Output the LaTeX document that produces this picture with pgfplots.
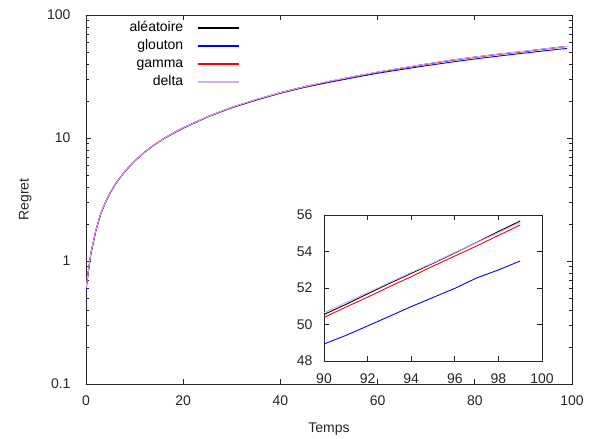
\documentclass[border=0pt]{standalone}
\usepackage{pgfplots}
\pgfplotsset{compat=1.18}
\usepackage{pgfplotstable}
\usepackage{fontspec}
\setmainfont{Liberation Sans}
\definecolor{deltac}{rgb}{0.80,0.68,1.0}
\definecolor{axisgray}{rgb}{0.15,0.15,0.15}

\pgfplotstableread{
t v
0 0.60
1 1.15
2 1.75
3 2.40
4 3.00
5 3.60
6 4.20
7 4.75
8 5.35
10 6.50
12 7.65
14 8.80
16 9.90
18 11.0
20 12.1
25 14.9
30 17.8
35 20.5
40 23.4
45 26.2
50 28.8
55 31.5
60 34.3
65 37.0
70 39.9
75 42.8
80 45.5
85 48.1
90 50.55
91 51.10
92 51.68
93 52.25
94 52.80
95 53.35
96 53.92
97 54.50
98 55.10
99 55.67
}\alea

\pgfplotstableread{
t v
0 0.58
1 1.13
2 1.74
3 2.38
4 2.98
5 3.58
6 4.18
7 4.73
8 5.33
10 6.48
12 7.62
14 8.75
16 9.85
18 10.9
20 12.0
25 14.8
30 17.6
35 20.3
40 23.1
45 25.8
50 28.3
55 30.9
60 33.6
65 36.1
70 38.7
75 41.3
80 43.9
85 46.4
90 48.93
91 49.40
92 49.92
93 50.45
94 50.98
95 51.48
96 51.98
97 52.55
98 52.99
99 53.48
}\glouton

\pgfplotstableread{
t v
0 0.62
1 1.17
2 1.77
3 2.42
4 3.02
5 3.62
6 4.22
7 4.77
8 5.37
10 6.52
12 7.66
14 8.80
16 9.90
18 11.0
20 12.1
25 14.9
30 17.7
35 20.5
40 23.3
45 26.1
50 28.7
55 31.4
60 34.2
65 36.9
70 39.8
75 42.6
80 45.3
85 47.9
90 50.39
91 50.95
92 51.50
93 52.07
94 52.62
95 53.20
96 53.75
97 54.30
98 54.88
99 55.45
}\gammat

\pgfplotstableread{
t v
0 0.60
1 1.16
2 1.76
3 2.41
4 3.01
5 3.61
6 4.21
7 4.76
8 5.36
10 6.51
12 7.66
14 8.81
16 9.91
18 11.0
20 12.1
25 14.9
30 17.8
35 20.6
40 23.4
45 26.2
50 28.9
55 31.6
60 34.4
65 37.1
70 40.0
75 42.9
80 45.6
85 48.2
90 50.65
91 51.20
92 51.75
93 52.30
94 52.85
95 53.38
96 53.95
97 54.48
98 55.03
99 55.58
}\deltat

\newcommand{\lblfont}{\fontsize{14}{16}\selectfont}

\begin{document}
\begin{tikzpicture}
\path[use as bounding box] (0pt,0pt) rectangle (592pt,439pt);
\pgfplotsset{
  every axis/.append style={
    scale only axis,
    axis line style={line width=0.9pt, draw=axisgray},
    tick style={line width=0.8pt, draw=axisgray},
    tick align=inside,
    tick pos=both,
    major tick length=5pt,
    minor tick length=3pt,
    /pgf/number format/assume math mode=true,
    tick label style={font=\lblfont, text=axisgray},
  },
}
\begin{axis}[
  at={(86pt,55pt)}, anchor=south west,
  width=486pt, height=369pt,
  xmin=0, xmax=100,
  ymode=log, ymin=0.1, ymax=100,
  xtick={0,20,...,100},
  ytick={0.1,1,10,100},
  yticklabels={0.1,1,10,100},
  xticklabel style={yshift=-8pt},
  yticklabel style={xshift=-12pt},
  xlabel={Temps},
  ylabel={Regret},
  every axis y label/.style={at={(axis description cs:-0.125,0.5)}, rotate=90, anchor=center, font=\lblfont, text=axisgray},
  every axis x label/.style={at={(axis description cs:0.5,-0.122)}, anchor=center, font=\lblfont, text=axisgray},
  legend plot pos=right,
  legend cell align=right,
  legend style={at={(axis description cs:0.08,0.994)}, anchor=north west, draw=none, fill=none,
    font=\lblfont, row sep=1pt, column sep=12pt,
    nodes={inner sep=1.5pt, text height=11pt, text depth=3pt}},
  legend image code/.code={\draw[#1, line width=1.6pt] (0pt,0pt) -- (41pt,0pt);},
]
\addplot[color=black, line width=0.9pt] table[x=t,y=v] {\alea};
\addlegendentry{aléatoire}
\addplot[color=blue, line width=0.9pt] table[x=t,y=v] {\glouton};
\addlegendentry{glouton}
\addplot[color=red, line width=0.9pt] table[x=t,y=v] {\gammat};
\addlegendentry{gamma}
\addplot[color=deltac, line width=0.9pt] table[x=t,y=v] {\deltat};
\addlegendentry{delta}
\end{axis}

\begin{axis}[
  at={(324pt,78pt)}, anchor=south west,
  width=218pt, height=146pt,
  axis background/.style={fill=white},
  xmin=90, xmax=100, ymin=48, ymax=56,
  xtick={90,92,...,100},
  ytick={48,50,...,56},
  xticklabel style={yshift=-9pt},
  yticklabel style={xshift=-8pt},
]
\addplot[color=black, line width=0.9pt] table[x=t,y=v, restrict x to domain=90:100] {\alea};
\addplot[color=blue, line width=0.9pt] table[x=t,y=v, restrict x to domain=90:100] {\glouton};
\addplot[color=red, line width=0.9pt] table[x=t,y=v, restrict x to domain=90:100] {\gammat};
\addplot[color=deltac, line width=0.9pt] table[x=t,y=v, restrict x to domain=90:100] {\deltat};
\end{axis}
\end{tikzpicture}
\end{document}
